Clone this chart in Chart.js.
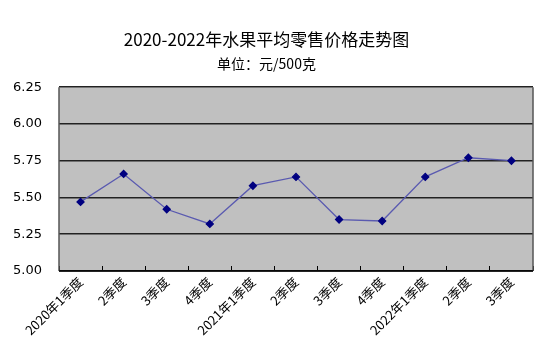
<!DOCTYPE html>
<html><head><meta charset="utf-8">
<script src="https://cdn.jsdelivr.net/npm/chart.js@4/dist/chart.umd.min.js"></script>
<style>html,body{margin:0;padding:0;background:#fff}#wrap{width:546px;height:361px}</style>
</head><body><div id="wrap"><canvas id="c" width="546" height="361"></canvas></div>
<script>
const categories = ["2020年1季度","2季度","3季度","4季度","2021年1季度","2季度","3季度","4季度","2022年1季度","2季度","3季度"];
const prices = [5.47,5.66,5.42,5.32,5.58,5.64,5.35,5.34,5.64,5.77,5.75];
const yTicks = [5.00,5.25,5.50,5.75,6.00,6.25];
const titleText = "2020-2022年水果平均零售价格走势图";
const subtitleText = "单位：元/500克";

const plotBg = {
  id:'plotBg',
  beforeDraw(chart){
    const {ctx, chartArea:a} = chart;
    ctx.save(); ctx.fillStyle='#c0c0c0';
    ctx.fillRect(a.left,a.top,a.right-a.left,a.bottom-a.top); ctx.restore();
  },
  beforeDatasetsDraw(chart){
    const {ctx, chartArea:a} = chart;
    ctx.save(); ctx.strokeStyle='#555'; ctx.lineWidth=1.5;
    ctx.beginPath();
    ctx.moveTo(a.left,a.top); ctx.lineTo(a.left,a.bottom);
    ctx.moveTo(a.right,a.top); ctx.lineTo(a.right,a.bottom);
    ctx.stroke();
    ctx.strokeStyle='#000'; ctx.lineWidth=1.5;
    ctx.beginPath(); ctx.moveTo(a.left,a.bottom); ctx.lineTo(a.right,a.bottom); ctx.stroke();
    ctx.restore();
  }
};

new Chart(document.getElementById('c'), {
  type:'line',
  data:{labels:categories, datasets:[{
    data:prices, borderColor:'#5a5ab0', borderWidth:1.3, tension:0,
    pointStyle:'rectRot', pointRadius:3.5, pointBackgroundColor:'#000080', pointBorderColor:'#000080', pointHoverRadius:3.5
  }]},
  options:{
    responsive:false, animation:false, devicePixelRatio:1,
    layout:{padding:{left:0,right:13,top:29,bottom:0}},
    plugins:{
      legend:{display:false}, tooltip:{enabled:false},
      title:{display:true, text:titleText, color:'#000', font:{family:'"Noto Sans CJK SC"', size:17, weight:'normal'}, padding:{top:0,bottom:0}},
      subtitle:{display:true, text:subtitleText, color:'#000', font:{family:'"Noto Sans CJK SC"', size:14, weight:'normal'}, padding:{top:6,bottom:15}}
    },
    scales:{
      x:{
        offset:true,
        grid:{display:true, offset:true, drawOnChartArea:false, drawTicks:true, tickLength:-5, color:'#000', lineWidth:1},
        border:{display:false},
        ticks:{color:'#000', font:{family:'"Noto Sans CJK SC"', size:13}, maxRotation:45, minRotation:45, autoSkip:false, padding:8},
        afterFit(s){ s.height = 90; }
      },
      y:{
        min:5, max:6.25,
        afterBuildTicks(s){ s.ticks = yTicks.map(v=>({value:v})); },
        grid:{color:'#222', lineWidth:1.5, drawTicks:false},
        border:{display:false},
        ticks:{color:'#000', font:{family:'DejaVu Sans', size:13}, padding:17, callback:v=>Number(v).toFixed(2)},
        afterFit(s){ s.width = 59; }
      }
    }
  },
  plugins:[plotBg]
});
</script></body></html>
